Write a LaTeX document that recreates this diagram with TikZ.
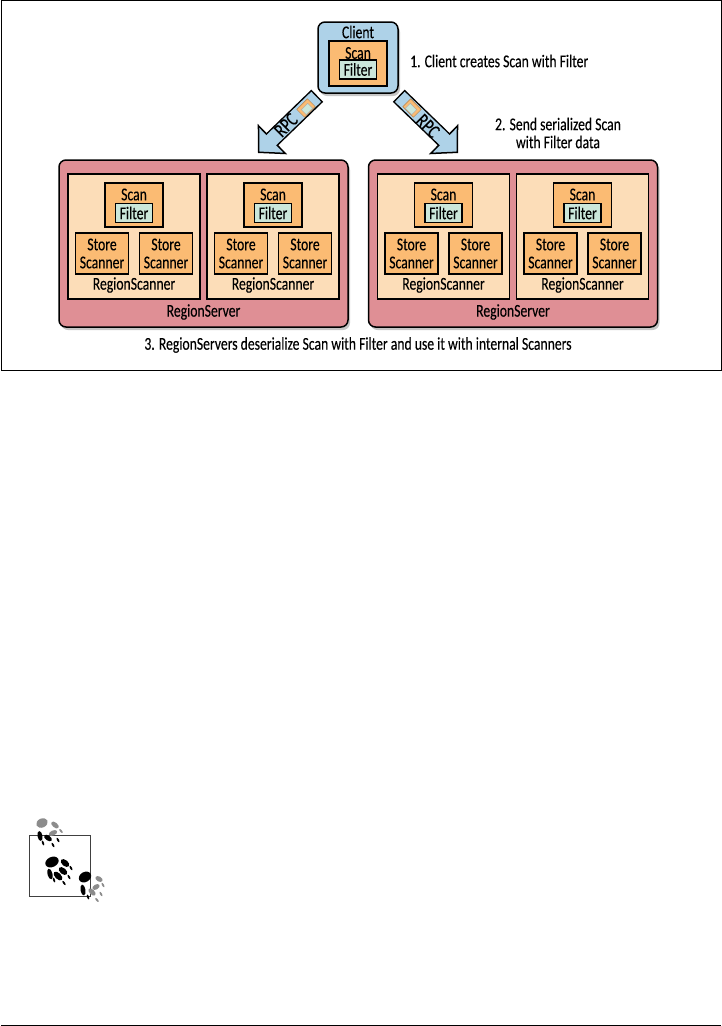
\documentclass[tikz,border=0pt]{standalone}
\usepackage{fontspec}
\setmainfont[FakeStretch=0.76,FakeBold=0.2]{Carlito}
\usepackage{xcolor}
\usetikzlibrary{arrows.meta}
\usetikzlibrary{calc}
\usetikzlibrary{shadows}
\definecolor{serverred}{HTML}{DF8F95}
\definecolor{regionpeach}{HTML}{FCDDB8}
\definecolor{scanorange}{HTML}{FBBB73}
\definecolor{filtergreen}{HTML}{CBE7DA}
\definecolor{clientblue}{HTML}{AED2E8}

\begin{document}
\begin{tikzpicture}[x=1pt, y=-1pt, >=Latex, font=\fontsize{18}{18}\selectfont]
		\tikzset{
			serverbox/.style={rounded corners=7pt, draw=black, line width=1.5pt, fill=serverred, drop shadow={shadow xshift=2pt, shadow yshift=-3pt, opacity=.45}, minimum width=289pt, minimum height=167pt},
			clientbox/.style={rounded corners=7pt, draw=black, line width=1.5pt, fill=clientblue, drop shadow={shadow xshift=2pt, shadow yshift=-3pt, opacity=.45}, minimum width=80pt, minimum height=71pt},
			regionbox/.style={draw=black, line width=1.3pt, fill=regionpeach, minimum width=132pt, minimum height=125pt},
			scanbox/.style={draw=black, line width=1.3pt, fill=scanorange, minimum width=58pt, minimum height=44pt},
			filterbox/.style={draw=black, line width=1.3pt, fill=filtergreen, minimum width=37pt, minimum height=19pt, inner sep=0pt},
			storebox/.style={draw=black, line width=1.2pt, fill=scanorange, minimum width=53pt, minimum height=41pt, inner sep=0pt, align=center},
			lbl/.style={inner sep=0pt},
			rpcline/.style={line width=17pt, draw=black, -{Triangle[length=20pt, width=42pt, line width=1.5pt, fill=clientblue]}},
			rpcfill/.style={line width=14pt, draw=clientblue, shorten >=16pt, shorten <=1.5pt},
			iconbox/.style={draw=scanorange!70!black, line width=.5pt, fill=scanorange, minimum width=15pt, minimum height=11pt, inner sep=0pt},
			icondoc/.style={draw=black!35, line width=.4pt, fill=filtergreen, minimum width=9pt, minimum height=7pt, inner sep=0pt},
			paw/.style={fill=black},
			pawgray/.style={fill=black!45},
		}
		\useasboundingbox (0,0) rectangle (722,1026);

		% outer frame and page rule
		\node[draw=black, line width=1pt, minimum width=720pt, minimum height=370pt, inner sep=0pt] (frame) at (361,185.5) {};
		\coordinate (ruleL) at (1,1025);
		\coordinate (ruleR) at (721,1025);
		\draw[line width=1pt] (ruleL) -- (ruleR);

		% client
		\node[clientbox] (client) at (358,57.5) {};
		\node[lbl] (clientlbl) at (358,32) {Client};
		\node[draw=black, line width=1.5pt, fill=scanorange, minimum width=58pt, minimum height=45pt] (cscan) at (358,63.5) {};
		\node[lbl] (cscanlbl) at (358,53) {Scan};
		\node[filterbox] (cfilter) at (358,69.5) {Filter};

		% region servers
		\foreach \n/\dx in {A/0, B/309.5} {
			\node[serverbox] (server\n) at (203.5+\dx,243.5) {};
			\node[lbl] (serverlbl\n) at (203.5+\dx,312) {RegionServer};
			\foreach \m/\rx in {1/134, 2/273} {
				\node[regionbox] (region\n\m) at (\rx+\dx,236.5) {};
				\node[lbl] (regionlbl\n\m) at (\rx+\dx,285) {RegionScanner};
				\node[scanbox] (scan\n\m) at (\rx+\dx,205) {};
				\node[lbl] (scanlbl\n\m) at (\rx+\dx,194.5) {Scan};
				\node[filterbox] (filter\n\m) at (\rx+\dx,213) {Filter};
				\node[storebox] (storeL\n\m) at (\rx+\dx-32,253.5) {Store\\Scanner};
				\node[storebox] (storeR\n\m) at (\rx+\dx+32,253.5) {Store\\Scanner};
			}
		}

		% rpc arrows
		\coordinate (tipA) at (258,153);
		\coordinate (tipB) at (458,153);
		\draw[rpcline] ([yshift=-2pt]client.south west) -- (tipA);
		\draw[rpcfill] ([yshift=-2pt]client.south west) -- (tipA);
		\draw[rpcline] ([yshift=-2pt]client.south east) -- (tipB);
		\draw[rpcfill] ([yshift=-2pt]client.south east) -- (tipB);
		\node[iconbox, rotate=45] (iconA) at (306,108) {};
		\node[icondoc, rotate=45] (docA) at (307,109) {};
		\node[iconbox, rotate=-45] (iconB) at (412,108) {};
		\node[icondoc, rotate=-45] (docB) at (411,109) {};
		\node[lbl, rotate=45, font=\fontsize{20}{20}\selectfont] (rpcA) at (286,125) {RPC};
		\node[lbl, rotate=-45, font=\fontsize{20}{20}\selectfont] (rpcB) at (428,126) {RPC};

		% step texts
		\node[lbl, anchor=west] (stepone) at (410,61) {1. Client creates Scan with Filter};
		\node[lbl, align=center] (steptwo) at (558,133) {2. Send serialized Scan\\with Filter data};
		\node[lbl] (stepthree) at (358,345) {3. RegionServers deserialize Scan with Filter and use it with internal Scanners};

		% tip icon
		\node[draw=black!75, line width=.8pt, minimum width=61pt, minimum height=61pt, inner sep=0pt] (tipbox) at (59.5,865.5) {};
		\foreach \x/\y/\a/\b/\r/\s in {
			42/823/6/4.5/25/pawgray, 55/825/4.5/2.5/-40/pawgray, 53/833/4.5/2.5/25/pawgray,
			40/836/2.5/5/10/paw, 48/838/4.5/2.5/-35/paw,
			61/831/2.5/1/-50/pawgray, 58/840/2.5/1/-60/paw, 53/845/2.5/1/-60/paw, 43/843/2.5/1/-70/paw,
			52/862/7/5/25/paw, 65/863/5/3/-40/paw, 63/871/5/3/-40/paw,
			50/874/2.5/5.5/15/paw, 58/876/5.5/3/-45/paw,
			71/868/2.5/1/-60/paw, 69/877/2.5/1/-60/paw, 54/880/2.5/1/-70/paw, 64/883/2.5/1/-55/paw,
			85/877/6.5/5/30/paw, 99/879/4/2.5/-30/pawgray, 96/887/4/2.5/30/pawgray,
			83/890/2.5/5.5/10/paw, 92/892/4.5/2.5/-45/pawgray,
			103/885/2.5/1/-60/pawgray, 101/894/2.5/1/-60/pawgray, 88/897/2.5/1/-70/paw, 97/900/2.5/1/-50/pawgray} {
			\path[\s] (\x,\y) ellipse[x radius=\a, y radius=\b, rotate=\r];
		}
	\end{tikzpicture}
\end{document}
